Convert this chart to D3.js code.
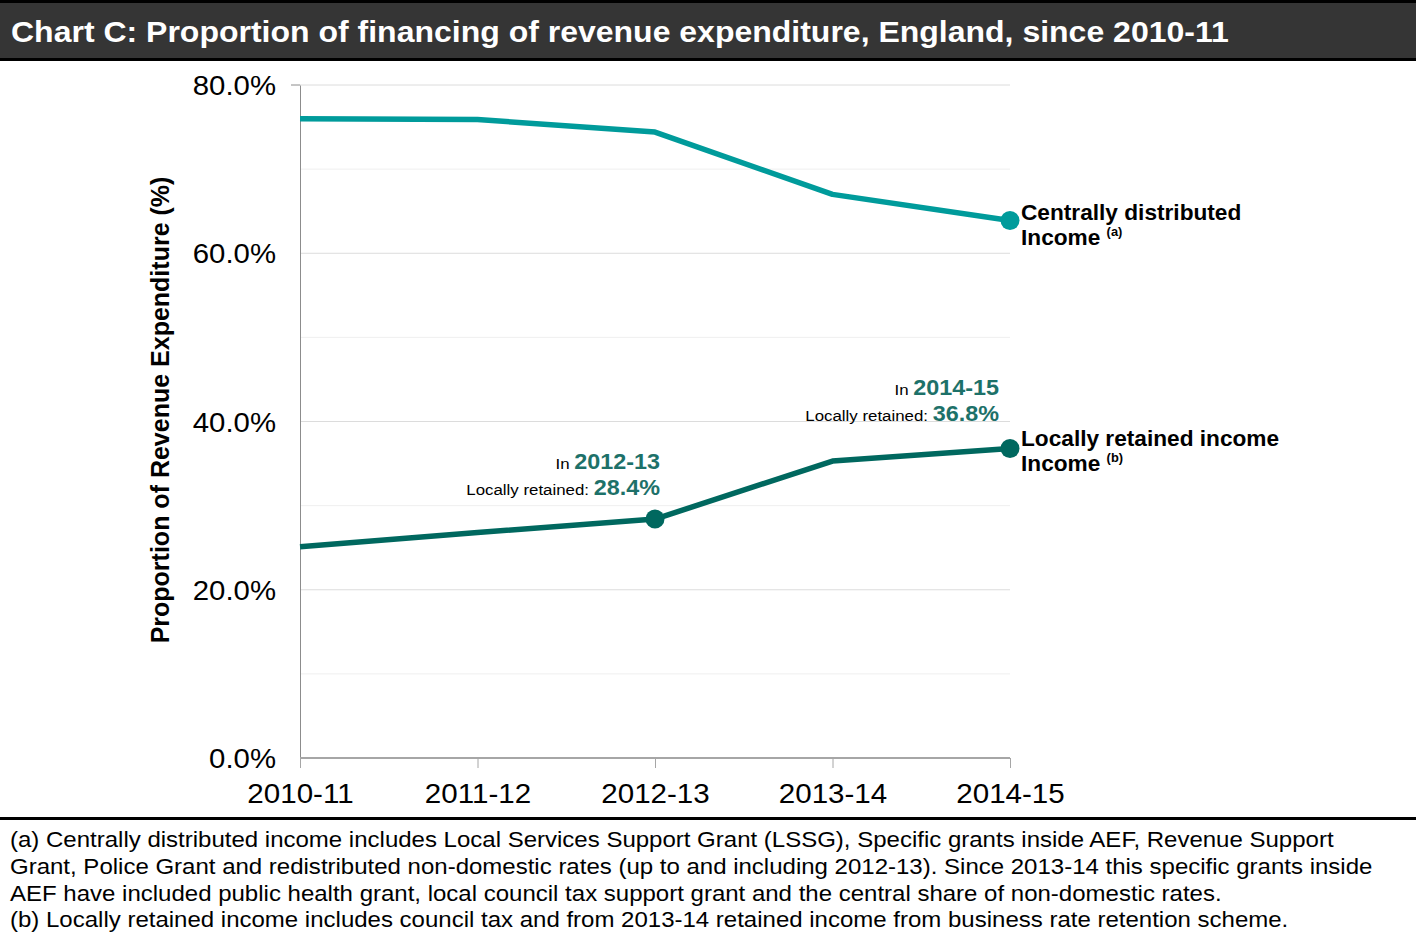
<!DOCTYPE html>
<html>
<head>
<meta charset="utf-8">
<script src="https://cdn.jsdelivr.net/npm/d3@7"></script>
<style>
  html, body { margin: 0; padding: 0; background: #fff; }
  svg { display: block; font-family: "Liberation Sans", Arial, sans-serif; }
</style>
</head>
<body>
<svg id="chart" width="1416" height="933"></svg>
<script>
// Financial years on the x axis
const years = ["2010-11", "2011-12", "2012-13", "2013-14", "2014-15"];
// Share of revenue expenditure (%) by source of financing
const centralShare = [76.0, 75.9, 74.4, 67.0, 63.9];
const localShare = [25.1, 26.8, 28.4, 35.3, 36.8];
// Y axis tick values (%)
const yTicks = [0, 20, 40, 60, 80];
const yMinorTicks = [10, 30, 50, 70];

const footnotes = [
  "(a) Centrally distributed income includes Local Services Support Grant (LSSG), Specific grants inside AEF, Revenue Support",
  "Grant, Police Grant and redistributed non-domestic rates (up to and including 2012-13). Since 2013-14 this specific grants inside",
  "AEF have included public health grant, local council tax support grant and the central share of non-domestic rates.",
  "(b) Locally retained income includes council tax and from 2013-14 retained income from business rate retention scheme."
];

const W = 1416, H = 933;
const svg = d3.select("#chart");

const cCentral = "#009b9b";
const cLocal = "#00685f";
const cNote = "#1d7169";
// Text in this chart is set slightly wide
const SX = 1.088;

function wideText(parent, tx, ty, sx) {
  return parent.append("text").attr("transform", `translate(${tx},${ty}) scale(${sx},1)`);
}

// Title bar
svg.append("rect").attr("x", 0).attr("y", 0).attr("width", W).attr("height", 61).attr("fill", "#000");
svg.append("rect").attr("x", 0).attr("y", 3).attr("width", W).attr("height", 55).attr("fill", "#353535");
wideText(svg, 11, 42, 1.085)
  .attr("fill", "#fff").attr("font-weight", "bold").attr("font-size", 29.5)
  .text("Chart C: Proportion of financing of revenue expenditure, England, since 2010-11");

// Scales
const x = d3.scalePoint().domain(years).range([300, 1010]);
const y = d3.scaleLinear().domain([0, 80]).range([758, 85]);

const g = svg.append("g");

// Gridlines
g.selectAll("line.minor").data(yMinorTicks).join("line")
  .attr("x1", 300).attr("x2", 1010)
  .attr("y1", d => y(d)).attr("y2", d => y(d))
  .attr("stroke", "#efefef").attr("stroke-width", 1);
g.selectAll("line.major").data(yTicks.filter(d => d > 0)).join("line")
  .attr("x1", 300).attr("x2", 1010)
  .attr("y1", d => y(d)).attr("y2", d => y(d))
  .attr("stroke", "#dcdcdc").attr("stroke-width", 1);
// Small tick at the top of the value axis
g.append("line").attr("x1", 291).attr("x2", 300).attr("y1", y(80)).attr("y2", y(80))
  .attr("stroke", "#8c8c8c").attr("stroke-width", 1);

// Y axis
const yAxis = d3.axisLeft(y).tickValues(yTicks).tickSize(0).tickFormat(() => "");
const yg = g.append("g").attr("transform", "translate(300,0)").call(yAxis);
yg.select(".domain").attr("stroke", "#8c8c8c");
yg.selectAll(".tick").each(function(d) {
  wideText(d3.select(this), -24, 0, SX)
    .attr("text-anchor", "end").attr("dy", "0.36em")
    .attr("font-size", 27).attr("fill", "#000")
    .text(d3.format(".1f")(d) + "%");
});

// X axis
const xAxis = d3.axisBottom(x).tickSize(10).tickFormat(() => "");
const xg = g.append("g").attr("transform", "translate(0,758)").call(xAxis);
xg.select(".domain").attr("stroke", "#a6a6a6").attr("stroke-width", 2).attr("d", "M300,0H1010");
xg.selectAll(".tick line").attr("stroke", "#a6a6a6");
xg.selectAll(".tick").each(function(d) {
  wideText(d3.select(this), 0, 45, 1.095)
    .attr("text-anchor", "middle")
    .attr("font-size", 27).attr("fill", "#000")
    .text(d);
});

// Y axis title
svg.append("text")
  .attr("transform", "translate(169,410) rotate(-90)")
  .attr("text-anchor", "middle").attr("font-weight", "bold").attr("font-size", 25)
  .text("Proportion of Revenue Expenditure (%)");

// Lines
const line = d3.line().x((d, i) => x(years[i])).y(d => y(d));
g.append("path").datum(centralShare).attr("d", line)
  .attr("fill", "none").attr("stroke", cCentral).attr("stroke-width", 5.5).attr("stroke-linejoin", "round");
g.append("path").datum(localShare).attr("d", line)
  .attr("fill", "none").attr("stroke", cLocal).attr("stroke-width", 5.5).attr("stroke-linejoin", "round");

// Highlighted points
g.append("circle").attr("cx", x(years[4])).attr("cy", y(centralShare[4])).attr("r", 9.5).attr("fill", cCentral);
g.append("circle").attr("cx", x(years[2])).attr("cy", y(localShare[2])).attr("r", 9.5).attr("fill", cLocal);
g.append("circle").attr("cx", x(years[4])).attr("cy", y(localShare[4])).attr("r", 9.5).attr("fill", cLocal);

// Series labels
function seriesLabel(lx, ly, first, sup) {
  wideText(svg, lx, ly, 1.03)
    .attr("font-weight", "bold").attr("font-size", 22).attr("fill", "#000")
    .text(first);
  const t2 = wideText(svg, lx, ly + 25, 1.03)
    .attr("font-weight", "bold").attr("font-size", 22).attr("fill", "#000");
  t2.append("tspan").text("Income ");
  t2.append("tspan").attr("font-size", 12.5).attr("dy", -9).text(sup);
}
seriesLabel(1021, 220, "Centrally distributed", "(a)");
seriesLabel(1021, 446, "Locally retained income", "(b)");

// Callouts
function callout(rx, by, idx) {
  const t1 = wideText(svg, rx, by, SX).attr("text-anchor", "end");
  t1.append("tspan").attr("font-size", 15.5).attr("fill", "#000").text("In ");
  t1.append("tspan").attr("font-size", 21.5).attr("font-weight", "bold").attr("fill", cNote).text(years[idx]);
  const t2 = wideText(svg, rx, by + 26, SX).attr("text-anchor", "end");
  t2.append("tspan").attr("font-size", 15.5).attr("fill", "#000").text("Locally retained: ");
  t2.append("tspan").attr("font-size", 21.5).attr("font-weight", "bold").attr("fill", cNote)
    .text(d3.format(".1f")(localShare[idx]) + "%");
}
callout(660, 469, 2);
callout(999, 395, 4);

// Footnote rule and text
svg.append("rect").attr("x", 0).attr("y", 817).attr("width", W).attr("height", 3).attr("fill", "#000");
footnotes.forEach((d, i) => {
  wideText(svg, 10, 847 + i * 26.8, 1.092)
    .attr("font-size", 22).attr("fill", "#000")
    .text(d);
});
</script>
</body>
</html>
